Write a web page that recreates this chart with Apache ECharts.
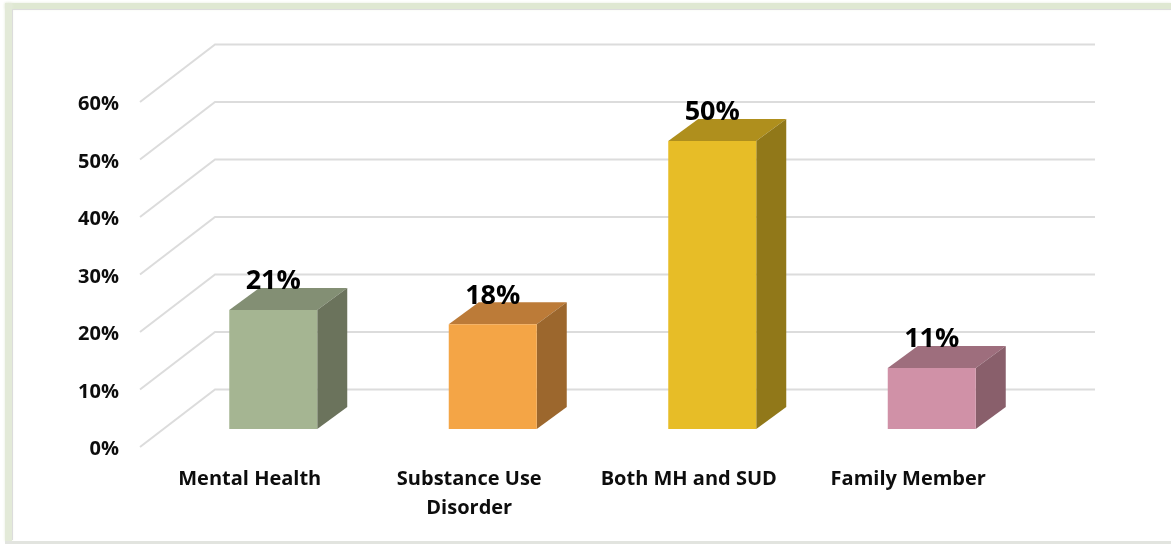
<!DOCTYPE html>
<html><head><meta charset="utf-8">
<style>html,body{margin:0;padding:0;background:#fff}#c{width:1171px;height:544px}</style>
<script src="https://cdn.jsdelivr.net/npm/echarts@6/dist/echarts.min.js"></script>
</head><body><div id="c"></div>
<script>
const categories = ['Mental Health', 'Substance Use\nDisorder', 'Both MH and SUD', 'Family Member'];
const values = [20.7, 18.2, 50.1, 10.6];
const yTicks = [0, 10, 20, 30, 40, 50, 60];
const frontColors = ['#A5B592', '#F4A546', '#E7BD27', '#D091A7'];
const topColors = ['#838F74', '#BC7B38', '#AF8F1D', '#9E6E7D'];
const sideColors = ['#6B735C', '#9C672D', '#917819', '#895F6B'];
const FONT = '"Open Sans"';
const chart = echarts.init(document.getElementById('c'), null, {renderer: 'canvas'});
const floorDx = 23.5, floorDy = -20.5, barW = 88, depthX = 30, depthY = 22, gridShift = -2.5;
chart.setOption({
  animation: false,
  backgroundColor: '#fff',
  graphic: [
    {type:'rect', z:0, shape:{x:5,y:3,width:1166,height:6}, style:{fill:'#dfe8d2', shadowBlur:3, shadowColor:'#e6ecdc'}},
    {type:'rect', z:0, shape:{x:5,y:3,width:7,height:538}, style:{fill:'#e3ead8', shadowBlur:3, shadowColor:'#e6ecdc'}},
    {type:'rect', z:0, shape:{x:12,y:9,width:1159,height:1}, style:{fill:'#dcdcdc'}},
    {type:'rect', z:0, shape:{x:12,y:9,width:1,height:531}, style:{fill:'#dcdcdc'}},
    {type:'rect', z:0, shape:{x:5,y:541,width:1166,height:3}, style:{fill:'#e2e4df'}}
  ],
  grid: {left: 140, right: 153, top: 104.5, bottom: 94.5},
  xAxis: {
    type: 'category', data: categories,
    axisLine: {show: false}, axisTick: {show: false}, splitLine: {show: false},
    axisLabel: {margin: 15.5, color: '#0d0d0d', fontFamily: FONT, fontWeight: 'bold', fontSize: 20, lineHeight: 29, interval: 0}
  },
  yAxis: {
    type: 'value', min: 0, max: 60, interval: 10,
    axisLine: {show: false}, axisTick: {show: false}, splitLine: {show: false},
    axisLabel: {margin: 21, color: '#0d0d0d', fontFamily: FONT, fontWeight: 'bold', fontSize: 20, formatter: '{value}%'}
  },
  series: [
    {
      type: 'custom', coordinateSystem: 'cartesian2d', silent: true, z: 1,
      data: yTicks.map(v => [0, v]),
      encode: {x: 0, y: 1},
      renderItem(params, api) {
        const y = api.coord([0, api.value(1)])[1] + gridShift;
        const cs = params.coordSys;
        return {
          type: 'polyline',
          shape: {points: [[cs.x, y], [cs.x + 75, y - 57.5], [cs.x + cs.width + 77, y - 57.5]]},
          style: {stroke: '#dcdcdc', lineWidth: 2, fill: 'none'}
        };
      }
    },
    {
      type: 'custom', coordinateSystem: 'cartesian2d', silent: true, z: 2,
      data: values.map((v, i) => [i, v]),
      encode: {x: 0, y: 1},
      renderItem(params, api) {
        const i = api.value(0), v = api.value(1);
        const top = api.coord([i, v]), base = api.coord([i, 0]);
        const cx = top[0] + floorDx, yt = top[1] + floorDy, yb = base[1] + floorDy;
        const xl = cx - barW / 2, xr = cx + barW / 2;
        return {
          type: 'group',
          children: [
            {type: 'polygon', shape: {points: [[xl, yt], [xr, yt], [xr + depthX, yt - depthY], [xl + depthX, yt - depthY]]}, style: {fill: topColors[i]}},
            {type: 'polygon', shape: {points: [[xr, yt], [xr + depthX, yt - depthY], [xr + depthX, yb - depthY], [xr, yb]]}, style: {fill: sideColors[i]}},
            {type: 'rect', shape: {x: xl, y: yt, width: barW, height: yb - yt}, style: {fill: frontColors[i]}},
            {type: 'text', z2: 10, style: {x: cx, y: yt - 28.5, text: Math.round(v) + '%', align: 'center', verticalAlign: 'middle', fill: '#000', fontFamily: FONT, fontWeight: 'bold', fontSize: 27}}
          ]
        };
      }
    }
  ]
});
</script></body></html>
